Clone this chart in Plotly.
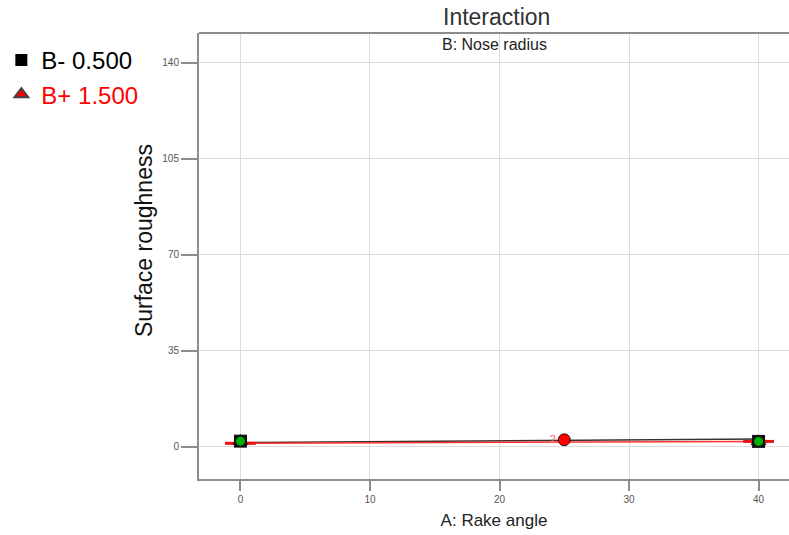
import plotly.graph_objects as go

# Factor A levels (rake angle) at the ends of the interaction lines
rake_angle = [0, 40]
# Predicted surface roughness for the two nose-radius levels
rough_b_low = [1.6, 2.9]   # B- 0.500
rough_b_high = [1.3, 2.0]  # B+ 1.500

# Design points
design_a = [0, 40]
design_y = [2.1, 2.0]
center_a = [25]
center_y = [2.6]
center_label = ["2"]

x_ticks = [0, 10, 20, 30, 40]
y_ticks = [0, 35, 70, 105, 140]

fig = go.Figure()

# interaction lines
fig.add_trace(go.Scatter(x=rake_angle, y=rough_b_low, mode="lines",
                         line=dict(color="#333333", width=1.5), showlegend=False))
fig.add_trace(go.Scatter(x=rake_angle, y=rough_b_high, mode="lines",
                         line=dict(color="#ff3030", width=1.5), showlegend=False))

# LSD-style end bars
fig.add_trace(go.Scatter(x=rake_angle, y=rough_b_high, mode="markers",
                         marker=dict(symbol="line-ew", size=22,
                                     line=dict(color="#ee1010", width=3)),
                         showlegend=False))

# design points: red triangle behind black square with green centre
fig.add_trace(go.Scatter(x=design_a, y=design_y, mode="markers",
                         marker=dict(symbol="triangle-up", size=13, color="#ff0000",
                                     line=dict(color="#660000", width=1)),
                         showlegend=False))
fig.add_trace(go.Scatter(x=design_a, y=design_y, mode="markers",
                         marker=dict(symbol="square", size=13, color="#111111"),
                         showlegend=False))
fig.add_trace(go.Scatter(x=design_a, y=design_y, mode="markers",
                         marker=dict(symbol="circle", size=9, color="#00b000"),
                         showlegend=False))
fig.add_trace(go.Scatter(x=center_a, y=center_y, mode="markers+text",
                         text=center_label, textposition="middle left",
                         textfont=dict(color="#ff6060", size=11, family="Liberation Sans"),
                         marker=dict(symbol="circle", size=12, color="#ff0000",
                                     line=dict(color="#331111", width=1)),
                         showlegend=False))

# legend entries
fig.add_trace(go.Scatter(x=[None], y=[None], mode="markers", name="B- 0.500",
                         marker=dict(symbol="square", size=14, color="#000000")))
fig.add_trace(go.Scatter(x=[None], y=[None], mode="markers",
                         name='<span style="color:#ff0000">B+ 1.500</span>',
                         marker=dict(symbol="triangle-up", size=15, color="#ff0000",
                                     line=dict(color="#444444", width=1))))

axis_common = dict(
    showgrid=True, gridcolor="#dcdcdc", gridwidth=1,
    showline=True, linecolor="#8c8c8c", linewidth=2,
    ticks="outside", tickcolor="#8c8c8c", tickwidth=2,
    tickfont=dict(family="Liberation Sans", size=10, color="#555555"),
    zeroline=False,
)

fig.update_layout(
    width=789, height=535,
    margin=dict(l=199, r=0, t=33, b=56),
    plot_bgcolor="white", paper_bgcolor="white",
    font=dict(family="Liberation Sans", color="#222222"),
    xaxis=dict(range=[-3.2, 42.35], tickvals=x_ticks, ticklen=10,
               mirror=False,
               title=dict(text="A: Rake angle", font=dict(size=17, color="#222222"),
                          standoff=10),
               **axis_common),
    yaxis=dict(range=[-11.7, 150.9], tickvals=y_ticks, ticklen=16,
               **axis_common),
    legend=dict(x=-0.335, y=0.989, xanchor="left", yanchor="top",
                font=dict(size=24, color="#000000", family="Liberation Sans"),
                bgcolor="rgba(0,0,0,0)", itemsizing="constant", tracegroupgap=4),
    annotations=[
        dict(text="Interaction", xref="paper", yref="paper",
             x=0.505, y=1.035, xanchor="center", yanchor="middle", showarrow=False,
             font=dict(size=23, color="#333333")),
        dict(text="B: Nose radius", xref="paper", yref="paper",
             x=0.5, y=0.998, xanchor="center", yanchor="top", showarrow=False,
             font=dict(size=16, color="#222222")),
        dict(text="Surface roughness", xref="paper", yref="paper",
             x=-0.092, y=0.535, xanchor="center", yanchor="middle", showarrow=False,
             textangle=-90, font=dict(size=23, color="#111111")),
    ],
    shapes=[dict(type="line", xref="paper", yref="paper", x0=0, x1=1, y0=1, y1=1,
                 line=dict(color="#8c8c8c", width=2))],
)

fig.write_html("out.html")
